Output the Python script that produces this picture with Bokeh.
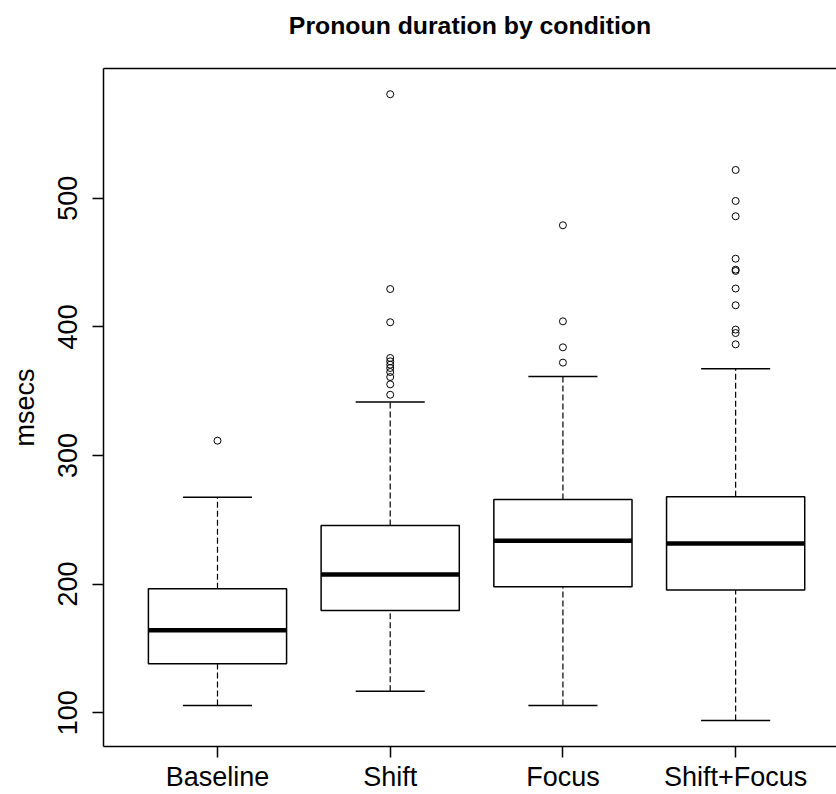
from bokeh.plotting import figure
from bokeh.models import Range1d, LinearAxis, FixedTicker, ColumnDataSource
from bokeh.embed import file_html
from bokeh.resources import INLINE

# ---- data ----
categories = ["Baseline", "Shift", "Focus", "Shift+Focus"]
lower_whisker = [105.6, 116.7, 105.6, 93.9]
q1 = [138.0, 179.5, 198.0, 195.3]
median = [164.0, 207.5, 233.7, 231.6]
q3 = [196.4, 245.6, 265.8, 267.9]
upper_whisker = [267.6, 341.5, 361.5, 367.5]
outliers_baseline = [311.5]
outliers_shift = [580.9, 429.4, 403.6, 375.8, 373.2, 370.6, 368.0, 364.9, 361.0, 355.3, 347.2]
outliers_focus = [479.0, 404.3, 384.1, 372.2]
outliers_shift_focus = [522.0, 497.9, 486.0, 453.0, 444.5, 443.5, 429.8, 416.8, 397.9, 395.2, 386.4]
y_ticks = [100, 200, 300, 400, 500]
title_text = "Pronoun duration by condition"
y_label = "msecs"

outlier_lists = [outliers_baseline, outliers_shift, outliers_focus, outliers_shift_focus]
pos = [i + 1 for i in range(len(categories))]
box_w = 0.8
staple_w = 0.4
FONT = "Liberation Sans"
X_LO, X_HI = 0.34, 4.584
Y_LO, Y_HI = 73.7, 600.9

p = figure(width=836, height=794, output_backend="svg", toolbar_location=None,
           x_range=Range1d(X_LO, X_HI), y_range=Range1d(Y_LO, Y_HI),
           min_border_left=103, min_border_right=0, min_border_top=68,
           min_border_bottom=48, background_fill_color="white",
           border_fill_color="white")
p.grid.visible = False
p.outline_line_color = None

xa = p.below[0]
ya = p.left[0]

# top frame line; the chart title is carried as this axis' label
top_axis = LinearAxis(ticker=FixedTicker(ticks=[]), axis_line_width=1.5,
                      axis_line_color="black", minor_tick_line_color=None,
                      major_tick_line_color=None,
                      major_label_text_font_size="0px",
                      major_tick_out=0, major_tick_in=0, major_label_standoff=0)
top_axis.axis_label = title_text
top_axis.axis_label_text_font = FONT
top_axis.axis_label_text_font_size = "24.8px"
top_axis.axis_label_text_font_style = "bold"
top_axis.axis_label_text_color = "black"
top_axis.axis_label_standoff = 30
p.add_layout(top_axis, "above")

src = ColumnDataSource(dict(
    x=pos, lo=lower_whisker, q1=q1, med=median, q3=q3, hi=upper_whisker,
    left=[x - box_w / 2 for x in pos], right=[x + box_w / 2 for x in pos],
    sl=[x - staple_w / 2 for x in pos], sr=[x + staple_w / 2 for x in pos],
))

# whiskers (dashed)
p.segment(x0="x", y0="q3", x1="x", y1="hi", source=src, line_color="black",
          line_width=1.2, line_dash="6 3")
p.segment(x0="x", y0="lo", x1="x", y1="q1", source=src, line_color="black",
          line_width=1.2, line_dash="6 3")
# staples
p.segment(x0="sl", y0="hi", x1="sr", y1="hi", source=src, line_color="black", line_width=1.5)
p.segment(x0="sl", y0="lo", x1="sr", y1="lo", source=src, line_color="black", line_width=1.5)
# boxes
p.vbar(x="x", width=box_w, bottom="q1", top="q3", source=src, fill_color="white",
       line_color="black", line_width=1.5)
# medians
p.segment(x0="left", y0="med", x1="right", y1="med", source=src, line_color="black",
          line_width=4.5)

# outliers
ox, oy = [], []
for x, vals in zip(pos, outlier_lists):
    for v in vals:
        ox.append(x)
        oy.append(v)
p.scatter(ox, oy, marker="circle", size=7, fill_color=None, line_color="black",
          line_width=1)

# axes
xa.ticker = FixedTicker(ticks=pos)
xa.major_label_overrides = {x: c for x, c in zip(pos, categories)}
xa.major_label_text_font = FONT
xa.major_label_text_font_size = "27px"
xa.major_label_text_color = "black"
xa.major_tick_out = 11
xa.major_tick_in = 0
xa.major_tick_line_width = 1.5
xa.minor_tick_line_color = None
xa.axis_line_width = 1.5
xa.axis_line_color = "black"
xa.major_label_standoff = 4

ya.ticker = FixedTicker(ticks=y_ticks)
ya.major_label_orientation = "vertical"
ya.major_label_text_font = FONT
ya.major_label_text_font_size = "27px"
ya.major_label_text_color = "black"
ya.major_tick_out = 11
ya.major_tick_in = 0
ya.major_tick_line_width = 1.5
ya.minor_tick_line_color = None
ya.axis_line_width = 1.5
ya.axis_line_color = "black"
ya.major_label_standoff = 15
ya.axis_label = y_label
ya.axis_label_text_font = FONT
ya.axis_label_text_font_size = "27px"
ya.axis_label_text_font_style = "normal"
ya.axis_label_text_color = "black"
ya.axis_label_standoff = 16

open("out.html", "w").write(file_html(p, INLINE))
